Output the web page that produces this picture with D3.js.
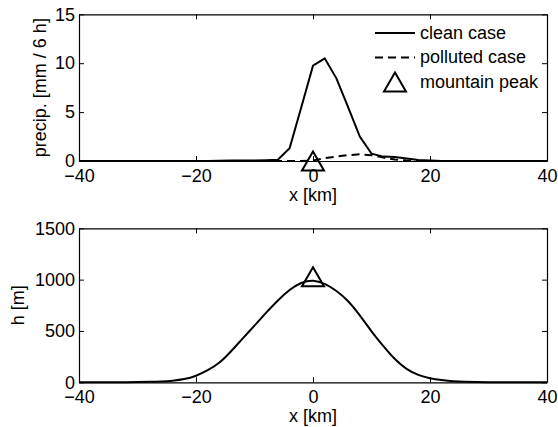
<!DOCTYPE html>
<html>
<head>
<meta charset="utf-8">
<script src="https://cdn.jsdelivr.net/npm/d3@7"></script>
<style>
  body { margin: 0; background: #fff; }
  svg text { font-family: "Liberation Sans", Arial, Helvetica, sans-serif; fill: #000; }
</style>
</head>
<body>
<div id="chart"></div>
<script>
   var svgWidth = 558;
   var svgHeight = 427;

   // precipitation along the cross section (every 2 km)
   var xKm = [-40, -38, -36, -34, -32, -30, -28, -26, -24, -22, -20, -18, -16, -14, -12, -10, -8, -6, -4, -2,
       0, 2, 4, 6, 8, 10, 12, 14, 16, 18, 20, 22, 24, 26, 28, 30, 32, 34, 36, 38, 40];
   var cleanPrecip = [0, 0, 0, 0, 0, 0, 0, 0, 0, 0, 0, 0, 0.02, 0.04, 0.05, 0.06, 0.08, 0.12, 1.3, 5.5,
       9.75, 10.5, 8.45, 5.5, 2.5, 0.75, 0.45, 0.4, 0.25, 0.1, 0.05, 0, 0, 0, 0, 0, 0, 0, 0, 0, 0];
   var pollutedPrecip = [0, 0, 0, 0, 0, 0, 0, 0, 0, 0, 0, 0, 0, 0, 0, 0, 0, 0, 0, 0,
       0.05, 0.3, 0.45, 0.6, 0.68, 0.6, 0.35, 0.15, 0.05, 0, 0, 0, 0, 0, 0, 0, 0, 0, 0, 0, 0];

   // terrain height
   var terrainHeight = [0, 0, 0, 0, 0, 2, 4, 8, 15, 28, 60, 115, 185, 300, 430, 550, 680, 800, 905, 975,
       1000, 965, 893, 798, 655, 493, 355, 220, 125, 68, 38, 22, 10, 5, 2, 0, 0, 0, 0, 0, 0];

   var peak = { x: 0, precip: 0, h: 1000 };

   var xTicks = [-40, -20, 0, 20, 40];
   var precipTicks = [0, 5, 10, 15];
   var heightTicks = [0, 500, 1000, 1500];

   var legendItems = ["clean case", "polluted case", "mountain peak"];

   var fontSize = 18;

   var svg = d3.select("#chart")
       .append("svg")
       .attr("width", svgWidth)
       .attr("height", svgHeight);

   var left = 79, width = 468;

   var xScale = d3.scaleLinear()
       .domain([-40, 40])
       .range([0, width]);

   // triangle marker, centred on its bounding box
   function triangle(cx, cy) {
       var w = 22, h = 19;
       return "M" + cx + "," + (cy - h / 2) +
           "L" + (cx + w / 2) + "," + (cy + h / 2) +
           "L" + (cx - w / 2) + "," + (cy + h / 2) + "Z";
   }

   function drawPanel(top, height, yDomain, yTicks, yLabel, yLabelX) {
       var g = svg.append("g")
           .attr("transform", `translate(${left}, ${top})`);

       var yScale = d3.scaleLinear()
           .domain(yDomain)
           .range([height, 0]);

       var fmt = d3.format("d");

       g.append("g")
           .attr("transform", `translate(0, ${height})`)
           .call(d3.axisBottom(xScale).tickValues(xTicks).tickFormat(fmt).tickSizeInner(-5).tickSizeOuter(0).tickPadding(8));
       g.append("g")
           .call(d3.axisTop(xScale).tickValues(xTicks).tickFormat("").tickSizeInner(-5).tickSizeOuter(0));
       g.append("g")
           .call(d3.axisLeft(yScale).tickValues(yTicks).tickFormat(fmt).tickSizeInner(-5).tickSizeOuter(0).tickPadding(4));
       g.append("g")
           .attr("transform", `translate(${width}, 0)`)
           .call(d3.axisRight(yScale).tickValues(yTicks).tickFormat("").tickSizeInner(-5).tickSizeOuter(0));

       g.selectAll(".domain").attr("stroke", "#000").attr("stroke-width", 1.2);
       g.selectAll(".tick line").attr("stroke", "#000");
       g.selectAll(".tick text")
           .style("font-size", fontSize + "px")
           .style("font-family", "Liberation Sans, Arial, sans-serif");

       // axis labels
       g.append("text")
           .attr("x", width / 2)
           .attr("y", height + 40)
           .style("text-anchor", "middle")
           .style("font-size", fontSize + "px")
           .text("x [km]");

       g.append("text")
           .attr("transform", `translate(${yLabelX - left}, ${height / 2}) rotate(-90)`)
           .style("text-anchor", "middle")
           .style("font-size", fontSize + "px")
           .text(yLabel);

       return { g: g, y: yScale };
   }

   // top panel: precipitation
   var p1 = drawPanel(14.3, 146.7, [0, 15], precipTicks, "precip. [mm / 6 h]", 46);

   var line1 = d3.line()
       .x((d, i) => xScale(xKm[i]))
       .y(d => p1.y(d));

   p1.g.append("path")
       .datum(cleanPrecip)
       .attr("d", line1)
       .attr("fill", "none")
       .attr("stroke", "#000")
       .attr("stroke-width", 2);

   p1.g.append("path")
       .datum(pollutedPrecip)
       .attr("d", line1)
       .attr("fill", "none")
       .attr("stroke", "#000")
       .attr("stroke-width", 2)
       .attr("stroke-dasharray", "8,5");

   p1.g.append("path")
       .attr("d", triangle(xScale(peak.x), p1.y(peak.precip)))
       .attr("fill", "none")
       .attr("stroke", "#000")
       .attr("stroke-width", 2);

   // legend
   var legend = p1.g.append("g")
       .attr("transform", `translate(${375 - left}, 0)`);

   legendItems.forEach(function(name, i) {
       var cy = 33 + i * 24.5 - 14.3;
       if (i < 2) {
           legend.append("line")
               .attr("x1", 0).attr("x2", 40)
               .attr("y1", cy).attr("y2", cy)
               .attr("stroke", "#000")
               .attr("stroke-width", 2)
               .attr("stroke-dasharray", i == 1 ? "8,5" : null);
       } else {
           legend.append("path")
               .attr("d", triangle(20, cy))
               .attr("fill", "none")
               .attr("stroke", "#000")
               .attr("stroke-width", 2);
       }
       legend.append("text")
           .attr("x", 45)
           .attr("y", cy + 6)
           .style("font-size", fontSize + "px")
           .text(name);
   });

   // bottom panel: terrain
   var p2 = drawPanel(228.3, 154, [0, 1500], heightTicks, "h [m]", 24);

   var line2 = d3.line()
       .x((d, i) => xScale(xKm[i]))
       .y(d => p2.y(d))
       .curve(d3.curveBasis);

   p2.g.append("path")
       .datum(terrainHeight)
       .attr("d", line2)
       .attr("fill", "none")
       .attr("stroke", "#000")
       .attr("stroke-width", 2);

   p2.g.append("path")
       .attr("d", triangle(xScale(peak.x), p2.y(peak.h) - 3))
       .attr("fill", "none")
       .attr("stroke", "#000")
       .attr("stroke-width", 2);
</script>
</body>
</html>
